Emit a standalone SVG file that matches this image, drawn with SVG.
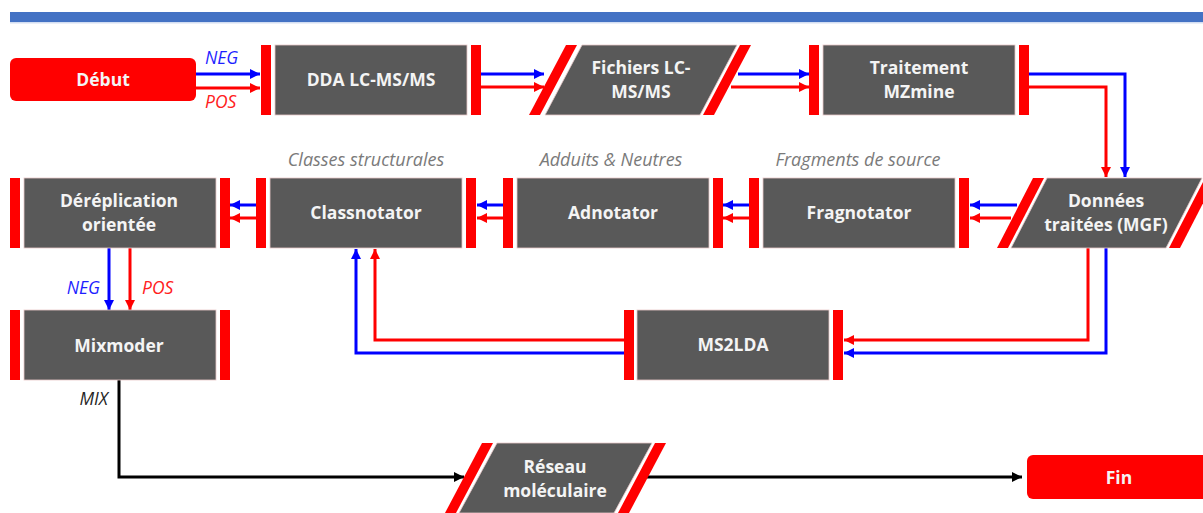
<svg xmlns="http://www.w3.org/2000/svg" width="1203" height="513" viewBox="0 0 1203 513">
  <style>
    .box { fill: #595959; stroke: #e9c9c9; stroke-width: 0.8; }
    .bar { fill: #ff0000; }
    .term { fill: #ff0000; }
    .lbl { font-family: "Open Sans", "Liberation Sans", sans-serif; font-weight: 700; font-size: 17.5px; fill: #f4f4f4; text-anchor: middle; }
    .note { font-family: "Open Sans", "Liberation Sans", sans-serif; font-style: italic; font-size: 18px; fill: #7a7a7a; text-anchor: middle; }
    .tag { font-family: "Open Sans", "Liberation Sans", sans-serif; font-style: italic; font-size: 17.5px; }
    .neg { fill: #1f1fff; }
    .pos { fill: #ff2020; }
    .mix { fill: #262626; }
    .b { stroke: #0000ff; stroke-width: 3; fill: none; marker-end: url(#hb); }
    .r { stroke: #ff0000; stroke-width: 3; fill: none; marker-end: url(#hr); }
    .k { stroke: #000000; stroke-width: 3; fill: none; }
  </style>
  <defs>
    <marker id="hb" markerUnits="userSpaceOnUse" markerWidth="10" markerHeight="10" refX="10" refY="5" orient="auto">
      <path d="M0,0 L10,5 L0,10 Z" fill="#0000ff"/>
    </marker>
    <marker id="hr" markerUnits="userSpaceOnUse" markerWidth="10" markerHeight="10" refX="10" refY="5" orient="auto">
      <path d="M0,0 L10,5 L0,10 Z" fill="#ff0000"/>
    </marker>
    <marker id="hk" markerUnits="userSpaceOnUse" markerWidth="10" markerHeight="10" refX="10" refY="5" orient="auto">
      <path d="M0,0 L10,5 L0,10 Z" fill="#000000"/>
    </marker>
  </defs>

  <!-- header rule -->
  <rect x="10" y="12" width="1193" height="10" fill="#4472c4"/>
  <rect x="10" y="22" width="1193" height="1.5" fill="#d3def2"/>

  <!-- connectors -->
  <g id="connectors">
    <!-- start to acquisition -->
    <line class="b" x1="196" y1="74" x2="260" y2="74"/>
    <line class="r" x1="196" y1="88" x2="260" y2="88"/>
    <!-- acquisition to raw files -->
    <line class="b" x1="481" y1="74" x2="544" y2="74"/>
    <line class="r" x1="481" y1="87" x2="544" y2="87"/>
    <!-- raw files to MZmine -->
    <line class="b" x1="738" y1="74" x2="809" y2="74"/>
    <line class="r" x1="731" y1="87" x2="809" y2="87"/>
    <!-- MZmine to processed data -->
    <polyline class="b" points="1029,74 1125,74 1125,177"/>
    <polyline class="r" points="1029,87 1106,87 1106,177"/>
    <!-- processed data to Fragnotator -->
    <line class="b" x1="1017" y1="205" x2="970" y2="205"/>
    <line class="r" x1="1011" y1="218" x2="970" y2="218"/>
    <!-- Fragnotator to Adnotator -->
    <line class="b" x1="749" y1="205" x2="723" y2="205"/>
    <line class="r" x1="749" y1="218" x2="723" y2="218"/>
    <!-- Adnotator to Classnotator -->
    <line class="b" x1="503" y1="205" x2="477" y2="205"/>
    <line class="r" x1="503" y1="218" x2="477" y2="218"/>
    <!-- Classnotator to dereplication -->
    <line class="b" x1="256" y1="205" x2="230" y2="205"/>
    <line class="r" x1="256" y1="218" x2="230" y2="218"/>
    <!-- processed data to MS2LDA -->
    <polyline class="r" points="1088,248 1088,340 844,340"/>
    <polyline class="b" points="1106,248 1106,353 844,353"/>
    <!-- MS2LDA to Classnotator -->
    <polyline class="r" points="624,340 375,340 375,249"/>
    <polyline class="b" points="624,353 356,353 356,249"/>
    <!-- dereplication to Mixmoder -->
    <line class="b" x1="109" y1="248" x2="109" y2="310"/>
    <line class="r" x1="130" y1="248" x2="130" y2="310"/>
    <!-- Mixmoder to molecular network -->
    <polyline class="k" marker-end="url(#hk)" points="119,380 119,477 464,477"/>
    <!-- molecular network to end -->
    <line class="k" marker-end="url(#hk)" x1="645" y1="477" x2="1022" y2="477"/>
  </g>

  <!-- connector tags -->
  <text class="tag neg" x="205" y="64">NEG</text>
  <text class="tag pos" x="205" y="108">POS</text>
  <text class="tag neg" x="100" y="294" text-anchor="end">NEG</text>
  <text class="tag pos" x="142" y="294">POS</text>
  <text class="tag mix" x="108" y="405" text-anchor="end">MIX</text>

  <!-- node captions -->
  <text class="note" x="366" y="166">Classes structurales</text>
  <text class="note" x="611" y="166">Adduits &amp; Neutres</text>
  <text class="note" x="858" y="166">Fragments de source</text>

  <g id="debut">
    <rect class="term" x="10" y="58" width="186" height="43" rx="6"/>
    <text class="lbl" x="103" y="86" fill="#ffffff">Début</text>
  </g>

  <g id="dda">
    <rect class="bar" x="261" y="45" width="10" height="70"/>
    <rect class="box" x="275" y="45" width="192" height="70"/>
    <rect class="bar" x="471" y="45" width="10" height="70"/>
    <text class="lbl" x="371" y="86">DDA LC-MS/MS</text>
  </g>

  <g id="fichiers">
    <polygon class="bar" points="566,45 577,45 540,115 529,115"/>
    <polygon class="box" points="582,45 737,45 700,115 545,115"/>
    <polygon class="bar" points="740,45 751,45 714,115 703,115"/>
    <text class="lbl" x="641" y="74">Fichiers LC-</text>
    <text class="lbl" x="641" y="98">MS/MS</text>
  </g>

  <g id="traitement">
    <rect class="bar" x="809" y="45" width="10" height="70"/>
    <rect class="box" x="823" y="45" width="192" height="70"/>
    <rect class="bar" x="1019" y="45" width="10" height="70"/>
    <text class="lbl" x="919" y="74">Traitement</text>
    <text class="lbl" x="919" y="98">MZmine</text>
  </g>

  <g id="donnees">
    <polygon class="bar" points="1033,178 1044,178 1008,248 997,248"/>
    <polygon class="box" points="1047,178 1202,178 1166,248 1011,248"/>
    <polygon class="bar" points="1205,178 1216,178 1180,248 1169,248"/>
    <text class="lbl" x="1106" y="207">Données</text>
    <text class="lbl" x="1106" y="231">traitées (MGF)</text>
  </g>

  <g id="fragnotator">
    <rect class="bar" x="749" y="178" width="10" height="70"/>
    <rect class="box" x="763" y="178" width="192" height="70"/>
    <rect class="bar" x="959" y="178" width="10" height="70"/>
    <text class="lbl" x="859" y="219">Fragnotator</text>
  </g>

  <g id="adnotator">
    <rect class="bar" x="503" y="178" width="10" height="70"/>
    <rect class="box" x="517" y="178" width="192" height="70"/>
    <rect class="bar" x="713" y="178" width="10" height="70"/>
    <text class="lbl" x="613" y="219">Adnotator</text>
  </g>

  <g id="classnotator">
    <rect class="bar" x="256" y="178" width="10" height="70"/>
    <rect class="box" x="270" y="178" width="192" height="70"/>
    <rect class="bar" x="466" y="178" width="10" height="70"/>
    <text class="lbl" x="366" y="219">Classnotator</text>
  </g>

  <g id="dereplication">
    <rect class="bar" x="10" y="178" width="10" height="70"/>
    <rect class="box" x="24" y="178" width="192" height="70"/>
    <rect class="bar" x="220" y="178" width="10" height="70"/>
    <text class="lbl" x="119" y="207">Déréplication</text>
    <text class="lbl" x="119" y="231">orientée</text>
  </g>

  <g id="ms2lda">
    <rect class="bar" x="624" y="310" width="10" height="70"/>
    <rect class="box" x="637" y="310" width="192" height="70"/>
    <rect class="bar" x="833" y="310" width="10" height="70"/>
    <text class="lbl" x="733" y="351">MS2LDA</text>
  </g>

  <g id="mixmoder">
    <rect class="bar" x="10" y="310" width="10" height="70"/>
    <rect class="box" x="24" y="310" width="192" height="70"/>
    <rect class="bar" x="220" y="310" width="10" height="70"/>
    <text class="lbl" x="119" y="352">Mixmoder</text>
  </g>

  <g id="reseau">
    <polygon class="bar" points="482,443 493,443 456,513 445,513"/>
    <polygon class="box" points="497,443 652,443 614,513 459,513"/>
    <polygon class="bar" points="655,443 666,443 629,513 618,513"/>
    <text class="lbl" x="555" y="473">Réseau</text>
    <text class="lbl" x="555" y="497">moléculaire</text>
  </g>

  <g id="fin">
    <rect class="term" x="1027" y="455" width="186" height="44" rx="6"/>
    <text class="lbl" x="1119" y="484" fill="#ffffff">Fin</text>
  </g>
</svg>
